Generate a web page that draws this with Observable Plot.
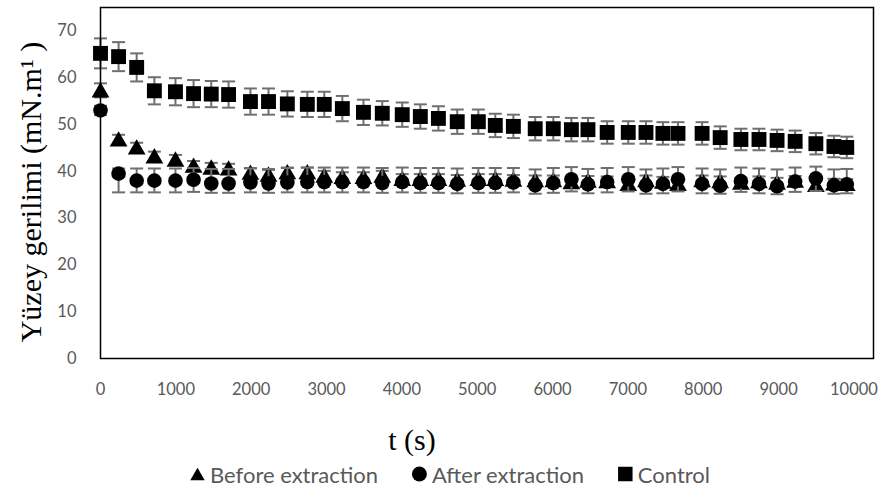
<!DOCTYPE html>
<html><head><meta charset="utf-8">
<script src="https://cdn.jsdelivr.net/npm/d3@7"></script>
<script src="https://cdn.jsdelivr.net/npm/@observablehq/plot@0.6"></script>
<style>
body{margin:0;background:#fff;}
#wrap{width:891px;height:495px;}
</style></head><body><div id="wrap"></div>
<script>
// ---- data ----
const times = [0, 240, 480, 715, 995, 1235, 1470, 1700, 1990, 2230,
  2480, 2745, 2970, 3210, 3490, 3740, 4005, 4245, 4485, 4735,
  5015, 5240, 5480, 5770, 6010, 6250, 6470, 6725, 7005, 7240,
  7465, 7665, 7985, 8225, 8500, 8740, 8980, 9220, 9495, 9735, 9905];

const beforeVals = [57.3, 46.8, 45.1, 43.2, 42.5, 41.2, 40.8, 40.6, 39.7, 39.3,
  39.8, 39.8, 39.1, 38.8, 38.8, 39.1, 38.4, 38.4, 38.4, 38.2,
  38.4, 38.4, 38.2, 38.1, 38.1, 37.7, 38.0, 37.9, 37.3, 38.1,
  37.8, 37.3, 38.1, 37.9, 37.6, 37.9, 37.6, 38.0, 37.1, 37.4, 37.3];
const beforeErr = [1.5, 1.0, 1.0, 1.0, 1.0, 1.0, 1.0, 1.0, 1.0, 1.0,
  1.0, 1.0, 1.0, 1.0, 1.0, 1.0, 1.0, 1.0, 1.0, 1.0,
  1.0, 1.0, 1.0, 1.0, 1.0, 1.0, 1.0, 1.0, 1.0, 1.0,
  1.0, 1.0, 1.0, 1.0, 1.0, 1.0, 1.0, 1.0, 1.0, 1.0, 1.0];

const afterVals = [53.0, 39.5, 38.0, 38.0, 38.0, 38.2, 37.4, 37.4, 37.6, 37.4,
  37.6, 37.7, 37.7, 37.7, 37.7, 37.5, 37.7, 37.5, 37.5, 37.3,
  37.5, 37.5, 37.6, 37.0, 37.5, 38.3, 37.2, 37.7, 38.3, 37.0,
  37.3, 38.3, 37.3, 36.9, 37.9, 37.3, 36.8, 37.8, 38.5, 37.0, 37.2];
const afterLow = [52.0, 35.5, 35.5, 35.5, 35.5, 35.6, 35.4, 35.4, 35.5, 35.4,
  35.5, 35.5, 35.5, 35.5, 35.5, 35.4, 35.5, 35.4, 35.4, 35.3,
  35.4, 35.4, 35.5, 35.2, 35.4, 35.7, 35.3, 35.5, 35.7, 35.2,
  35.3, 35.7, 35.3, 35.2, 35.6, 35.3, 35.1, 35.6, 35.8, 35.2, 35.3];
const afterHigh = [54.0, 40.6, 40.6, 40.6, 40.6, 40.7, 40.5, 40.5, 40.6, 40.5,
  40.7, 40.8, 40.8, 40.8, 40.8, 40.7, 40.8, 40.7, 40.7, 40.6,
  40.7, 40.7, 40.7, 40.4, 40.7, 40.9, 40.5, 40.7, 40.9, 40.4,
  40.6, 40.9, 40.6, 40.4, 40.8, 40.6, 40.4, 40.8, 41.0, 40.4, 40.5];

const controlVals = [65.2, 64.5, 62.2, 57.2, 57.0, 56.6, 56.5, 56.4, 54.9, 54.9,
  54.4, 54.3, 54.3, 53.4, 52.6, 52.4, 52.1, 51.7, 51.3, 50.6,
  50.6, 49.8, 49.6, 49.1, 49.1, 48.9, 48.9, 48.3, 48.3, 48.3,
  48.1, 48.1, 48.1, 47.2, 46.8, 46.8, 46.6, 46.4, 45.9, 45.3, 45.1];
const controlErr = [3.2, 3.1, 3.0, 2.9, 2.9, 2.9, 2.8, 2.8, 2.8, 2.8,
  2.7, 2.7, 2.7, 2.7, 2.7, 2.6, 2.6, 2.6, 2.6, 2.6,
  2.6, 2.5, 2.5, 2.5, 2.5, 2.5, 2.5, 2.4, 2.4, 2.4,
  2.4, 2.4, 2.4, 2.4, 2.3, 2.3, 2.3, 2.3, 2.3, 2.3, 2.3];

const seriesNames = ["Before extraction", "After extraction", "Control"];
const seriesSymbols = ["triangle", "circle", "square"];
const xTicks = [0, 1000, 2000, 3000, 4000, 5000, 6000, 7000, 8000, 9000, 10000];
const yTicks = [0, 10, 20, 30, 40, 50, 60, 70];
const xTitle = "t (s)";
const yTitle = "Yüzey gerilimi (mN.m¹ )";

// ---- tables ----
const before = times.map((t, i) => ({t, v: beforeVals[i], lo: beforeVals[i] - beforeErr[i], hi: beforeVals[i] + beforeErr[i]}));
const after = times.map((t, i) => ({t, v: afterVals[i], lo: afterLow[i], hi: afterHigh[i]}));
const control = times.map((t, i) => ({t, v: controlVals[i], lo: controlVals[i] - controlErr[i], hi: controlVals[i] + controlErr[i]}));

const barColor = "#6f6f6f";
const cap = {draw(ctx, size) { ctx.moveTo(-6.5, 0); ctx.lineTo(6.5, 0); }};

function bars(data) {
  return [
    Plot.ruleX(data, {x: "t", y1: "lo", y2: "hi", stroke: barColor, strokeWidth: 2}),
    Plot.dot(data, {x: "t", y: "lo", symbol: cap, fill: "none", stroke: barColor, strokeWidth: 2}),
    Plot.dot(data, {x: "t", y: "hi", symbol: cap, fill: "none", stroke: barColor, strokeWidth: 2})
  ];
}

const plot = Plot.plot({
  width: 891, height: 495,
  marginLeft: 100, marginRight: 18, marginTop: 7, marginBottom: 137,
  x: {domain: [0, 10260]},
  y: {domain: [0, 75]},
  style: {fontFamily: "Lato, sans-serif", fontSize: "16.5px", color: "#595959", background: "#fff", overflow: "visible"},
  marks: [
    Plot.axisY({ticks: yTicks, tickSize: 0, tickPadding: 24, label: null, tickFormat: d => String(d)}),
    Plot.axisX({ticks: xTicks, tickSize: 0, tickPadding: 25, label: null, tickFormat: d => String(d)}),
    ...bars(before),
    Plot.dot(before, {x: "t", y: "v", symbol: seriesSymbols[0], r: 6.6, dy: 2, fill: "#000", stroke: "none"}),
    ...bars(after),
    Plot.dot(after, {x: "t", y: "v", symbol: seriesSymbols[1], r: 7.3, fill: "#000", stroke: "none"}),
    ...bars(control),
    Plot.dot(control, {x: "t", y: "v", symbol: seriesSymbols[2], r: 8.4, fill: "#000", stroke: "none"}),
    Plot.frame({stroke: "#000", strokeWidth: 1.5})
  ]
});
document.getElementById("wrap").appendChild(plot);

// ---- axis titles and legend ----
const svg = d3.select(plot);
svg.append("text")
  .attr("transform", "translate(30,192) rotate(-90)")
  .attr("text-anchor", "middle").attr("dominant-baseline", "central")
  .attr("font-family", "'Liberation Serif', 'Times New Roman', serif").attr("font-size", 30)
  .attr("fill", "#000").text(yTitle);
svg.append("text")
  .attr("x", 412).attr("y", 439)
  .attr("text-anchor", "middle").attr("dominant-baseline", "central")
  .attr("font-family", "'Liberation Serif', 'Times New Roman', serif").attr("font-size", 30)
  .attr("fill", "#000").text(xTitle);

const symMap = {triangle: d3.symbolTriangle, circle: d3.symbolCircle, square: d3.symbolSquare};
const symSizes = {triangle: 90, circle: 175, square: 210};
const lg = svg.append("g").attr("font-family", "Lato, sans-serif").attr("font-size", 22).attr("fill", "#595959");
const items = seriesNames.map((name, i) => {
  const g = lg.append("g");
  g.append("path").attr("d", d3.symbol(symMap[seriesSymbols[i]], symSizes[seriesSymbols[i]])())
    .attr("fill", "#000").attr("transform", `translate(7.5,${seriesSymbols[i] === "triangle" ? 2 : 0})`);
  const tx = g.append("text").attr("x", 20).attr("text-anchor", "start").attr("dominant-baseline", "central").text(name);
  return {g, w: 20 + tx.node().getComputedTextLength()};
});
const legendLeft = 190, legendRight = 710;
const gap = (legendRight - legendLeft - d3.sum(items, d => d.w)) / (items.length - 1);
let x0 = legendLeft;
for (const it of items) { it.g.attr("transform", `translate(${x0},474)`); x0 += it.w + gap; }
</script>
</body></html>
